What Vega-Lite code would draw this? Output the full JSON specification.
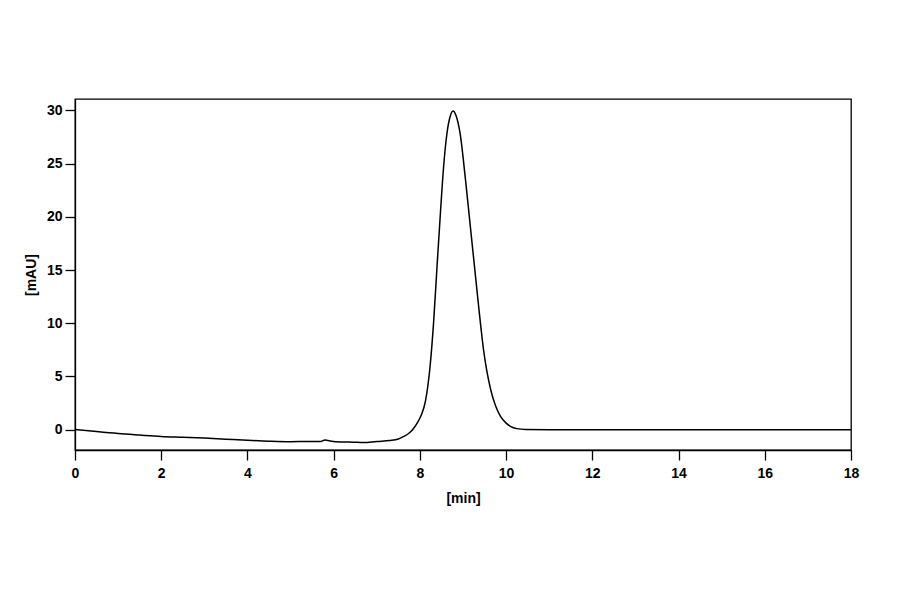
{
  "$schema": "https://vega.github.io/schema/vega-lite/v6.json",
  "autosize": "none",
  "padding": {"left": 75, "top": 99, "right": 49, "bottom": 144},
  "width": 776,
  "height": 351,
  "background": "white",
  "config": {
    "view": {"stroke": "black", "strokeWidth": 1.3},
    "font": "Liberation Sans",
    "axis": {
      "domainColor": "black",
      "domainWidth": 1.3,
      "tickColor": "black",
      "tickWidth": 1.3,
      "tickSize": 10,
      "grid": false,
      "labelFont": "Liberation Sans",
      "labelFontSize": 14,
      "labelFontWeight": "bold",
      "labelColor": "black",
      "titleFont": "Liberation Sans",
      "titleFontSize": 14,
      "titleFontWeight": "bold",
      "titleColor": "black"
    }
  },
  "data": {
    "values": [
      {"t": 0.0, "mAU": 0.02},
      {"t": 0.5, "mAU": -0.18},
      {"t": 1.0, "mAU": -0.36},
      {"t": 1.5, "mAU": -0.5},
      {"t": 2.0, "mAU": -0.63},
      {"t": 2.5, "mAU": -0.71},
      {"t": 3.0, "mAU": -0.79},
      {"t": 3.5, "mAU": -0.89},
      {"t": 4.0, "mAU": -0.99},
      {"t": 4.5, "mAU": -1.08},
      {"t": 5.0, "mAU": -1.13},
      {"t": 5.4, "mAU": -1.11},
      {"t": 5.68, "mAU": -1.12},
      {"t": 5.8, "mAU": -0.97},
      {"t": 5.95, "mAU": -1.08},
      {"t": 6.2, "mAU": -1.15},
      {"t": 6.45, "mAU": -1.17},
      {"t": 6.7, "mAU": -1.21},
      {"t": 7.0, "mAU": -1.1},
      {"t": 7.3, "mAU": -1.02},
      {"t": 7.5, "mAU": -0.88},
      {"t": 7.63, "mAU": -0.62},
      {"t": 7.73, "mAU": -0.38},
      {"t": 7.83, "mAU": 0.0},
      {"t": 7.94, "mAU": 0.65},
      {"t": 8.03, "mAU": 1.35},
      {"t": 8.13, "mAU": 2.7},
      {"t": 8.24, "mAU": 6.1},
      {"t": 8.32, "mAU": 10.2},
      {"t": 8.4, "mAU": 15.5},
      {"t": 8.48, "mAU": 20.6},
      {"t": 8.55, "mAU": 24.7},
      {"t": 8.63, "mAU": 27.9},
      {"t": 8.7, "mAU": 29.4},
      {"t": 8.77, "mAU": 29.95},
      {"t": 8.84, "mAU": 29.5},
      {"t": 8.93, "mAU": 27.9},
      {"t": 9.06, "mAU": 23.4},
      {"t": 9.17, "mAU": 19.1},
      {"t": 9.27, "mAU": 15.2},
      {"t": 9.37, "mAU": 11.3},
      {"t": 9.48, "mAU": 7.4},
      {"t": 9.64, "mAU": 3.8},
      {"t": 9.75, "mAU": 2.3},
      {"t": 9.87, "mAU": 1.25},
      {"t": 10.0, "mAU": 0.62},
      {"t": 10.1, "mAU": 0.32},
      {"t": 10.25, "mAU": 0.1},
      {"t": 10.45, "mAU": 0.02},
      {"t": 11.0, "mAU": 0.0},
      {"t": 18.0, "mAU": 0.0}
    ]
  },
  "mark": {"type": "line", "color": "black", "strokeWidth": 1.5, "interpolate": "monotone", "clip": true},
  "encoding": {
    "x": {
      "field": "t",
      "type": "quantitative",
      "title": "[min]",
      "scale": {"domain": [0, 18], "nice": false, "zero": false},
      "axis": {"values": [0, 2, 4, 6, 8, 10, 12, 14, 16, 18], "labelPadding": 6, "titlePadding": 11, "labelFlush": false}
    },
    "y": {
      "field": "mAU",
      "type": "quantitative",
      "title": "[mAU]",
      "scale": {"domain": [-1.907, 31.07], "nice": false, "zero": false},
      "axis": {"values": [0, 5, 10, 15, 20, 25, 30], "labelPadding": 3, "titlePadding": 8, "labelFlush": false}
    }
  }
}
